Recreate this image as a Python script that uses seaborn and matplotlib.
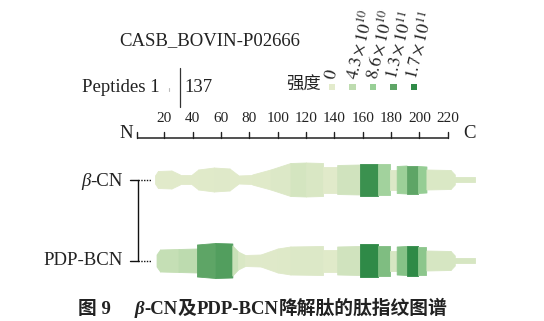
import numpy as np
import pandas as pd
import matplotlib
matplotlib.use("Agg")
import matplotlib.pyplot as plt
import seaborn as sns
from matplotlib.colors import LinearSegmentedColormap, Normalize

# ---------------- data ----------------
protein_name = "CASB_BOVIN-P02666"
peptide_label = "Peptides 1"
peptide_count = "137"
sample_names = ["β-CN", "PDP-BCN"]
axis_ticks = [20, 40, 60, 80, 100, 120, 140, 160, 180, 200, 220]
seq_start, seq_end = 1, 221
legend_values = [0, 4.3e10, 8.6e10, 1.3e11, 1.7e11]
legend_labels = [r"$\mathit{0}$",
                 r"$\mathit{4.3}\times\mathit{10}^{\mathit{10}}$",
                 r"$\mathit{8.6}\times\mathit{10}^{\mathit{10}}$",
                 r"$\mathit{1.3}\times\mathit{10}^{\mathit{11}}$",
                 r"$\mathit{1.7}\times\mathit{10}^{\mathit{11}}$"]
legend_colors = ["#e3ebcc", "#bedcb0", "#98cf96", "#5ea566", "#2f8a47"]

# beta-CN peptide coverage segments (residue start/end, half-width at start/end, intensity x1e10)
bcn_start = [13.4, 15.5, 25, 31, 39.5, 44, 55, 66, 72, 82, 95, 109, 120, 132, 142, 158, 171, 179, 184, 191, 199, 205, 222, 225]
bcn_end = [15.5, 25, 31, 39.5, 44, 55, 66, 72, 82, 95, 109, 120, 132, 142, 158, 171, 179, 184, 191, 199, 205, 222, 225, 239]
bcn_h0 = [4, 8.5, 9, 4.5, 5, 10, 12, 11, 4, 5, 10, 16.5, 17, 13, 14.5, 16, 15.5, 10, 13.5, 14, 13.5, 10, 9.5, 2.5]
bcn_h1 = [8.5, 9, 5, 4.5, 10, 12, 11, 4.5, 4.5, 10, 16.5, 17, 16.5, 13, 15, 16, 15.5, 10, 14, 14, 13, 9.5, 5, 2.5]
bcn_int = [0.3, 0.3, 0.3, 0.3, 0.3, 0.4, 0.5, 0.3, 0.3, 0.4, 0.8, 1.8, 1.2, 0.3, 2.2, 16, 7.5, 0.8, 8.2, 13, 8.8, 1.0, 1.0, 1.0]

# PDP-BCN peptide coverage segments
pdp_start = [14.5, 17, 30, 43, 56, 68, 72, 77, 88, 100, 109, 132, 142, 158, 171, 179, 184, 191, 199, 205, 222, 225]
pdp_end = [17, 30, 43, 56, 68, 72, 77, 88, 100, 109, 132, 142, 158, 171, 179, 184, 191, 199, 205, 222, 225, 239]
pdp_h0 = [6, 11, 11.5, 16, 17.5, 15, 9, 5.5, 6, 12, 14, 11, 14, 16.5, 15, 10, 14, 15, 14, 10, 9.5, 2.5]
pdp_h1 = [11, 11.5, 12, 17.5, 17, 9, 5.5, 6, 12, 14, 14.5, 11, 14.5, 16.5, 15, 10, 14.5, 15, 14, 9.5, 5, 2.5]
pdp_int = [3.5, 3.5, 4.5, 13, 14, 3, 1, 0.5, 0.5, 0.6, 0.8, 0.4, 2.2, 17, 10.5, 1.5, 10, 17, 9.5, 1.5, 1.5, 1.5]

caption_pieces = ["图 9", "β", "-CN", "及", "PDP-BCN", "降解肽的肽指纹图谱"]

# ---------------- style ----------------
sns.set_theme(style="white")
plt.rcParams["font.family"] = ["Liberation Serif", "Noto Sans CJK SC", "DejaVu Sans"]
plt.rcParams["mathtext.fontset"] = "stix"

W, H, DPI = 544, 321, 100
PX_PER_RES = 1.4168
X0 = 136.0  # pixel of residue 0


def res(xpx):
    return (xpx - X0) / PX_PER_RES


fig = plt.figure(figsize=(W / DPI, H / DPI), dpi=DPI)
ax = fig.add_axes([0, 0, 1, 1])
ax.set_xlim(res(0), res(W))
ax.set_ylim(H, 0)
ax.axis("off")

cmap = LinearSegmentedColormap.from_list(
    "int", list(zip(np.array(legend_values) / legend_values[-1], legend_colors)))
norm = Normalize(0, 17)

# ---------------- title / info ----------------
LAB = 13.5
ax.text(res(209.5), 41, protein_name, ha="center", va="center", fontsize=LAB, color="#222222")
ax.text(res(160), 87, peptide_label, ha="right", va="center", fontsize=LAB, color="#222222")
ax.plot([res(169), res(169)], [88, 91], color="#bbbbbb", lw=0.8)
ax.plot([res(180), res(180)], [68, 107], color="#333333", lw=0.9)
ax.text(res(184), 87, peptide_count, ha="left", va="center", fontsize=LAB, color="#222222")

# legend
ax.text(res(321), 85, "强度", ha="right", va="center", fontsize=12.5, color="#222222",
        family=["Noto Sans CJK SC"])
leg_x = [332, 352.5, 373, 393.5, 414]
leg_df = pd.DataFrame({"x": [res(v) for v in leg_x], "y": [87] * 5, "lab": legend_labels})
sns.scatterplot(data=leg_df, x="x", y="y", hue="lab", palette=legend_colors, marker="s",
                s=22, linewidth=0, legend=False, ax=ax)
for xv, lab in zip(leg_x, legend_labels):
    ax.text(res(xv - 1.5), 79, lab, rotation=76, rotation_mode="anchor", ha="left",
            va="center", fontsize=12.8, color="#222222")

# ---------------- ruler ----------------
RY = 138
ax.plot([seq_start, seq_end], [RY, RY], color="#222222", lw=1.1, solid_capstyle="butt")
for t in [seq_start] + axis_ticks:
    ax.plot([t, t], [RY, RY - 6.5], color="#222222", lw=1.0)
for t in axis_ticks:
    ax.text(t, 119, str(t), ha="center", va="center", fontsize=11, color="#222222")
ax.text(res(126.5), 134, "N", ha="center", va="center", fontsize=LAB, color="#222222")
ax.text(res(469), 134, "C", ha="center", va="center", fontsize=LAB, color="#222222")

# ---------------- bands ----------------
centers = [179.5, 260.5]
tracks = [(bcn_start, bcn_end, bcn_h0, bcn_h1, bcn_int),
          (pdp_start, pdp_end, pdp_h0, pdp_h1, pdp_int)]
for cy, (st, en, h0, h1, it) in zip(centers, tracks):
    for s, e, a, b, v in zip(st, en, h0, h1, it):
        c = cmap(norm(v))
        ax.fill_between([s, e], [cy - a, cy - b], [cy + a, cy + b], color=c, lw=0.6)

# bracket and leaders
for cy in centers:
    ax.plot([res(130), res(138.3)], [cy, cy], color="#111111", lw=1.0)
    ax.plot([res(138.3), res(151)], [cy, cy], color="#111111", lw=1.0, ls=(0, (1, 1)))
ax.plot([res(138.3), res(138.3)], centers, color="#111111", lw=1.0)

renderer = fig.canvas.get_renderer()


def chain(pieces, x_px, y_px, ha="left"):
    arts, widths = [], []
    for s, kw in pieces:
        t = ax.text(0, y_px, s, va="baseline", ha="left", **kw)
        arts.append(t)
        widths.append(t.get_window_extent(renderer).width)
    total = sum(widths)
    cur = x_px if ha == "left" else x_px - total
    for t, w in zip(arts, widths):
        t.set_x(res(cur))
        cur += w


# sample labels
chain([("β", dict(fontsize=LAB, style="italic", color="#222222")),
       ("-CN", dict(fontsize=LAB, color="#222222"))], 123, 186, ha="right")
ax.text(res(123), 260.5, sample_names[1], ha="right", va="center", fontsize=LAB, color="#222222")

# caption
CAP = 13.5
fam = ["Liberation Serif", "Noto Sans CJK SC"]
chain([(caption_pieces[0], dict(fontsize=CAP, weight="bold", family=fam, color="#222222")),
       ("     ", dict(fontsize=CAP, family=fam)),
       (caption_pieces[1], dict(fontsize=CAP, weight="bold", style="italic", family=fam, color="#222222")),
       (caption_pieces[2], dict(fontsize=CAP, weight="bold", family=fam, color="#222222")),
       (caption_pieces[3], dict(fontsize=CAP, weight="bold", family=fam, color="#222222")),
       (caption_pieces[4], dict(fontsize=CAP, weight="bold", family=fam, color="#222222")),
       (caption_pieces[5], dict(fontsize=CAP, weight="bold", family=fam, color="#222222"))],
      78, 314)

fig.savefig("out.png", dpi=DPI)
